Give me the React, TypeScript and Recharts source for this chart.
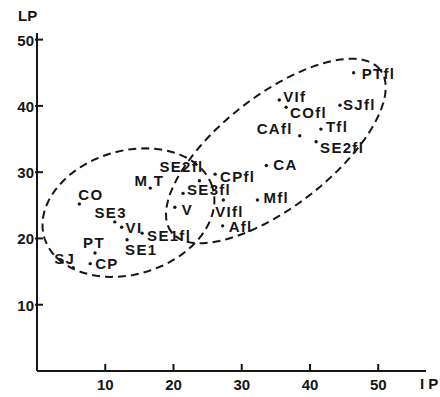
import React from 'react';
import { ScatterChart, Scatter, XAxis, YAxis } from 'recharts';

// sample labels and their IP / LP readings
const sampleNames = [
  'PTfl', 'VIf', 'COfl', 'SJfl', 'CAfl', 'Tfl', 'SE2fl', 'CA', 'Mfl', 'VIfl', 'Afl', 'V',
  'SE3fl', 'CPfl', 'SE2fl', 'M.T', 'SE1fl', 'SE1', 'VI', 'SE3', 'CO', 'PT', 'CP', 'SJ',
];
const ipValues = [
  46.4, 35.5, 36.5, 44.4, 38.5, 41.6, 40.9, 33.6, 32.3, 27.3, 27.2, 20.2,
  21.4, 26.1, 23.8, 16.6, 15.4, 13.2, 12.4, 11.4, 6.2, 8.5, 7.8, 5.3,
];
const lpValues = [
  45.0, 40.9, 39.8, 40.1, 35.5, 36.5, 34.6, 31.0, 25.8, 25.8, 21.9, 24.7,
  26.8, 29.7, 28.7, 27.6, 20.8, 19.8, 21.7, 22.5, 25.2, 17.8, 16.2, 15.6,
];

const ipTicks = [10, 20, 30, 40, 50];
const lpTicks = [10, 20, 30, 40, 50];

// dashed groupings: centre (IP, LP), semi axes, tilt in degrees
const groupCentres = [[13.4, 23.9], [35, 33.2]];
const groupRadii = [[12.9, 9.3], [19.6, 8.3]];
const groupTilt = [18, 39];

// where each label sits relative to its dot (px)
const labelSpots: [number, number, 'start' | 'middle' | 'end'][] = [
  [8, 6, 'start'], [4, 2, 'start'], [4, 11, 'start'], [3, 5, 'start'], [-7, -2, 'end'],
  [5, 3, 'start'], [4, 11, 'start'], [7, 4, 'start'], [6, 3, 'start'], [-8, 17, 'start'],
  [6, 6, 'start'], [7, 8, 'start'], [4, 2, 'start'], [5, 8, 'start'], [4, -9, 'end'],
  [-1, -2, 'middle'], [5, 8, 'start'], [-2, 15, 'start'], [4, 6, 'start'], [12, -4, 'end'],
  [-1, -4, 'start'], [-1, -5, 'middle'], [5, 5, 'start'], [2, -4, 'end'],
];

const ink = '#161616';
const font = '"Liberation Sans", Arial, sans-serif';

const samples = sampleNames.map((name, i) => ({ name, x: ipValues[i], y: lpValues[i], i }));

const outline = (g: number) => {
  const [cx, cy] = groupCentres[g];
  const [a, b] = groupRadii[g];
  const th = (groupTilt[g] * Math.PI) / 180;
  const pts = [];
  for (let k = 0; k <= 72; k++) {
    const t = (k * 5 * Math.PI) / 180;
    pts.push({
      x: cx + a * Math.cos(t) * Math.cos(th) - b * Math.sin(t) * Math.sin(th),
      y: cy + a * Math.cos(t) * Math.sin(th) + b * Math.sin(t) * Math.cos(th),
    });
  }
  return pts;
};

const XTick = ({ x, y, payload }: any) => (
  <g>
    <line x1={x} x2={x} y1={y - 7} y2={y} stroke={ink} strokeWidth={2} />
    <text x={x} y={y + 19} textAnchor="middle" fontSize={15} fontWeight="bold" fontFamily={font} fill={ink}>
      {payload.value}
    </text>
  </g>
);

const YTick = ({ x, y, payload }: any) => (
  <g>
    <line x1={x - 2} x2={x + 6} y1={y} y2={y} stroke={ink} strokeWidth={2} />
    <text x={x - 3} y={y + 6} textAnchor="end" fontSize={15} fontWeight="bold" fontFamily={font} fill={ink}>
      {payload.value}
    </text>
  </g>
);

const SampleDot = (props: any) => {
  const { cx, cy, payload } = props;
  const [dx, dy, anchor] = labelSpots[payload.i];
  const text = payload.name === 'M.T' ? 'M T' : payload.name;
  return (
    <g>
      <circle cx={cx} cy={cy} r={1.7} fill={ink} />
      <text
        x={cx + dx}
        y={cy + dy}
        textAnchor={anchor}
        fontSize={15}
        fontWeight="bold"
        fontFamily={font}
        letterSpacing={1.3}
        fill={ink}
      >
        {text}
      </text>
    </g>
  );
};

const axisText: React.CSSProperties = {
  position: 'absolute',
  fontFamily: font,
  fontWeight: 'bold',
  fontSize: 15,
  lineHeight: '15px',
  color: ink,
  whiteSpace: 'pre',
};

export default function App() {
  return (
    <div style={{ position: 'absolute', left: 0, top: 0, width: 440, height: 397, background: '#fff' }}>
      <ScatterChart width={440} height={397} margin={{ top: 33, right: 14, bottom: 0, left: 0 }}>
        <XAxis
          type="number"
          dataKey="x"
          domain={[0, 57]}
          ticks={ipTicks}
          height={26}
          tickSize={0}
          tickMargin={0}
          tickLine={false}
          axisLine={{ stroke: ink, strokeWidth: 2 }}
          tick={<XTick />}
          allowDataOverflow
        />
        <YAxis
          type="number"
          dataKey="y"
          domain={[0, 51]}
          ticks={lpTicks}
          width={37}
          tickSize={0}
          tickMargin={0}
          tickLine={false}
          axisLine={{ stroke: ink, strokeWidth: 2 }}
          tick={<YTick />}
          allowDataOverflow
        />
        {[0, 1].map((g) => (
          <Scatter
            key={g}
            data={outline(g)}
            line={{ stroke: ink, strokeWidth: 2, strokeDasharray: '8 5' }}
            lineType="joint"
            shape={() => <g />}
            isAnimationActive={false}
          />
        ))}
        <Scatter data={samples} shape={SampleDot} isAnimationActive={false} />
      </ScatterChart>
      <div style={{ ...axisText, left: 18, top: 8 }}>LP</div>
      <div style={{ ...axisText, left: 420, top: 376 }}>I P</div>
    </div>
  );
}
